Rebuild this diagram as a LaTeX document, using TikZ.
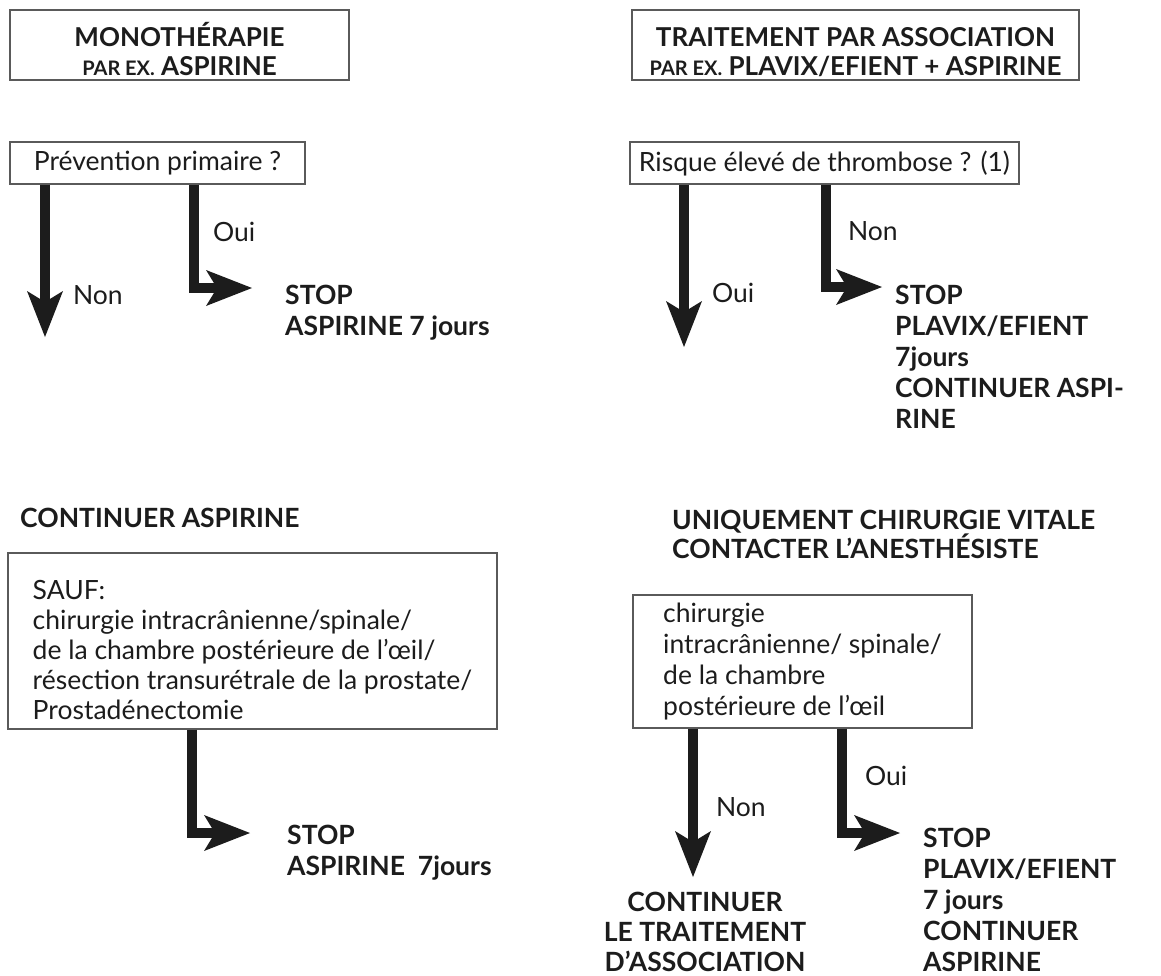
\documentclass[tikz,border=0pt]{standalone}
\usepackage{fontspec}
\setmainfont{Lato}
\usetikzlibrary{arrows.meta,positioning}
\definecolor{EncreNoire}{RGB}{28,28,28}
\definecolor{GrisCadre}{RGB}{90,90,90}
\newcommand{\parex}{{\fontsize{20}{20}\selectfont PAR EX.}}
\newcommand{\montant}[1]{\rule{0pt}{#1}}

\begin{document}
\begin{tikzpicture}[x=1pt,y=-1pt,
  >={Stealth[length=46pt,width=36pt,inset=11pt,line width=0pt]},
  cadre/.style={draw=GrisCadre,line width=1.3pt,align=left,inner sep=0pt,
    text=EncreNoire,font=\fontsize{26.5}{30}\selectfont},
  entete/.style={cadre,align=center,font=\bfseries\fontsize{26}{29}\selectfont},
  titre/.style={align=left,inner sep=0pt,text=EncreNoire,
    font=\bfseries\fontsize{26.5}{31}\selectfont},
  fleche/.style={->,line width=10pt,draw=EncreNoire},
  etiq/.style={inner sep=0pt,text=EncreNoire,font=\fontsize{26.5}{30}\selectfont}]
  \useasboundingbox (0,0) rectangle (1161,975);

  \node[entete,minimum width=339pt,minimum height=70pt] (mono) at (179.5,45)
    {\montant{33pt}MONOTHÉRAPIE\\\parex{} ASPIRINE};
  \node[entete,minimum width=447pt,minimum height=70pt] (asso) at (855.5,45)
    {\montant{33pt}TRAITEMENT PAR ASSOCIATION\\\parex{} PLAVIX/EFIENT + ASPIRINE};

  \node[cadre,minimum width=295pt,minimum height=42pt] (prim) at (157.5,163)
    {Prévention primaire ?};
  \node[cadre,minimum width=389pt,minimum height=42pt] (risque) at (824.5,163)
    {Risque élevé de thrombose ? (1)};

  \coordinate (coudeA) at (194,288);
  \coordinate (pointeA) at (252,288);
  \coordinate (pointeB) at (45,337);
  \draw[fleche] (prim.south -| coudeA) -- node[etiq,right=14pt,pos=0.46] (ouiA) {Oui}
    (coudeA) -- (pointeA);
  \draw[fleche] (prim.south -| pointeB) -- node[etiq,right=23pt,pos=0.725] (nonB) {Non}
    (pointeB);
  \node[titre,anchor=north west] (stopA) at (285,285) {STOP\\ASPIRINE 7 jours};

  \coordinate (pointeC) at (684,347);
  \coordinate (coudeD) at (826,287);
  \coordinate (pointeD) at (882,287);
  \draw[fleche] (risque.south -| pointeC) -- node[etiq,right=23pt,pos=0.67] (ouiC) {Oui}
    (pointeC);
  \draw[fleche] (risque.south -| coudeD) -- node[etiq,right=17pt,pos=0.45] (nonD) {Non}
    (coudeD) -- (pointeD);
  \node[titre,anchor=north west] (stopD) at (895,285)
    {STOP\\PLAVIX/EFIENT\\7jours\\CONTINUER ASPI-\\RINE};

  \node[titre,anchor=north west] (contAsp) at (20,508) {CONTINUER ASPIRINE};
  \node[titre,anchor=north west,font=\bfseries\fontsize{26.5}{28}\selectfont] (chirVit) at (672,510)
    {UNIQUEMENT CHIRURGIE VITALE\\CONTACTER L’ANESTHÉSISTE};

  \node[cadre,minimum width=489pt,minimum height=176pt] (sauf) at (252.5,641)
    {\montant{37pt}SAUF:\\chirurgie intracrânienne/spinale/\\de la chambre postérieure de l’œil/\\résection transurétrale de la prostate/\\Prostadénectomie};
  \node[cadre,minimum width=339pt,minimum height=133pt,font=\fontsize{26.5}{31}\selectfont] (vitale) at (802.5,661.5)
    {chirurgie\\intracrânienne/ spinale/\\de la chambre\\postérieure de l’œil};

  \coordinate (coudeE) at (192,833);
  \coordinate (pointeE) at (250,833);
  \draw[fleche] (sauf.south -| coudeE) -- (coudeE) -- (pointeE);
  \node[titre,anchor=north west] (stopE) at (287,825) {STOP\\ASPIRINE~~7jours};

  \coordinate (pointeF) at (693,877);
  \coordinate (coudeG) at (842,833);
  \coordinate (pointeG) at (900,833);
  \draw[fleche] (vitale.south -| pointeF) -- node[etiq,right=18pt,pos=0.53] (nonF) {Non}
    (pointeF);
  \draw[fleche] (vitale.south -| coudeG) -- node[etiq,right=18pt,pos=0.45] (ouiG) {Oui}
    (coudeG) -- (pointeG);
  \node[titre,anchor=north,align=center,font=\bfseries\fontsize{26.5}{30}\selectfont] (contF) at (705,892)
    {CONTINUER\\LE TRAITEMENT\\D’ASSOCIATION};
  \node[titre,anchor=north west] (stopG) at (923,828)
    {STOP\\PLAVIX/EFIENT\\7 jours\\CONTINUER\\ASPIRINE};
\end{tikzpicture}
\end{document}
